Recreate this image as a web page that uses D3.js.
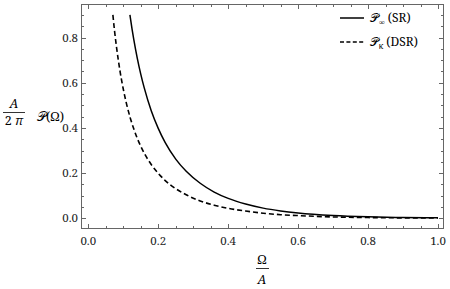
<!DOCTYPE html>
<html><head><meta charset="utf-8">
<script src="https://cdn.jsdelivr.net/npm/d3@7"></script>
<style>body{margin:0;background:#fff}svg{display:block}</style>
</head><body>
<svg id="c" width="450" height="289"></svg>
<script>
// Data
const omegaSR = [0.119,0.125,0.13,0.14,0.15,0.16,0.18,0.20,0.22,0.25,0.28,0.32,0.36,0.40,0.45,0.50,0.55,0.60,0.70,0.80,0.90,1.00];
const valuesSR = [0.90,0.838,0.792,0.709,0.638,0.577,0.476,0.398,0.335,0.262,0.208,0.155,0.116,0.088,0.063,0.045,0.0326,0.0236,0.0125,0.0066,0.0035,0.0019];
const omegaDSR = [0.0703,0.075,0.08,0.09,0.10,0.11,0.12,0.13,0.14,0.15,0.16,0.18,0.20,0.22,0.25,0.28,0.32,0.36,0.40,0.45,0.50,0.55,0.60,0.70,0.80,0.90,1.00];
const valuesDSR = [0.90,0.830,0.766,0.658,0.572,0.502,0.444,0.396,0.354,0.319,0.288,0.238,0.199,0.167,0.131,0.104,0.077,0.058,0.044,0.032,0.0225,0.016,0.012,0.006,0.0033,0.0018,0.001];
const xTicks = [0.0,0.2,0.4,0.6,0.8,1.0];
const yTicks = [0.0,0.2,0.4,0.6,0.8];
const xTickLabels = ["0.0","0.2","0.4","0.6","0.8","1.0"];
const yTickLabels = ["0.0","0.2","0.4","0.6","0.8"];
const legendLabels = [{main:"𝒫",sub:"∞",rest:" (SR)"},{main:"𝒫",sub:"κ",rest:" (DSR)"}];

const svg = d3.select("#c");
const L=81, R=444, T=4, B=229;
const x = d3.scaleLinear().domain([0,1]).range([88.3,438]);
const y = d3.scaleLinear().domain([0,0.8]).range([218.3,37.5]);
const frameColor = "#666";
const font = "'Noto Serif', 'Liberation Serif', serif";

// curves
const line = d3.line().x(d=>x(d[0])).y(d=>y(d[1])).curve(d3.curveMonotoneX);
svg.append("clipPath").attr("id","cp").append("rect").attr("x",L).attr("y",T).attr("width",R-L).attr("height",B-T);
const g = svg.append("g").attr("clip-path","url(#cp)");
g.append("path").attr("d", line(omegaSR.map((o,i)=>[o,valuesSR[i]])))
  .attr("fill","none").attr("stroke","#000").attr("stroke-width",1.5);
g.append("path").attr("d", line(omegaDSR.map((o,i)=>[o,valuesDSR[i]])))
  .attr("fill","none").attr("stroke","#000").attr("stroke-width",1.6).attr("stroke-dasharray","5,3");

// frame
svg.append("rect").attr("x",L+0.5).attr("y",T+0.5).attr("width",R-L-1).attr("height",B-T-1)
  .attr("fill","none").attr("stroke",frameColor).attr("stroke-width",1);

// ticks
const minorX = d3.range(0,1.0001,0.05);
const minorY = d3.range(0,0.9001,0.05);
const isMajor = v => Math.abs(v*5 - Math.round(v*5))<1e-6;
const tk = svg.append("g").attr("stroke",frameColor).attr("stroke-width",1);
minorX.forEach(v=>{
  const len = isMajor(v)?5:3, px = Math.round(x(v))+0.5;
  tk.append("line").attr("x1",px).attr("x2",px).attr("y1",B).attr("y2",B-len);
  tk.append("line").attr("x1",px).attr("x2",px).attr("y1",T).attr("y2",T+len);
});
minorY.forEach(v=>{
  const len = isMajor(v)?5:3, py = Math.round(y(v))+0.5;
  if(py<T||py>B) return;
  tk.append("line").attr("x1",L).attr("x2",L+len).attr("y1",py).attr("y2",py);
  tk.append("line").attr("x1",R).attr("x2",R-len).attr("y1",py).attr("y2",py);
});

// tick labels
svg.append("g").selectAll("text").data(xTicks).join("text")
  .attr("x",d=>x(d)).attr("y",245).attr("text-anchor","middle")
  .attr("font-family",font).attr("font-size",11.5).attr("fill","#222")
  .text((d,i)=>xTickLabels[i]);
svg.append("g").selectAll("text").data(yTicks).join("text")
  .attr("x",78).attr("y",d=>y(d)+4).attr("text-anchor","end")
  .attr("font-family",font).attr("font-size",11.5).attr("fill","#222")
  .text((d,i)=>yTickLabels[i]);

// y label
const yl = svg.append("g").attr("font-family",font).attr("font-size",12.5).attr("fill","#000");
yl.append("text").attr("x",14).attr("y",108).attr("text-anchor","middle").attr("font-style","italic").text("A");
yl.append("line").attr("x1",3).attr("x2",25).attr("y1",112.5).attr("y2",112.5).attr("stroke","#000").attr("stroke-width",0.8);
yl.append("text").attr("x",14).attr("y",125).attr("text-anchor","middle").html('2 <tspan font-style="italic">π</tspan>');
yl.append("text").attr("x",37).attr("y",121).html('<tspan>𝒫</tspan>(Ω)');

// x label
const xl = svg.append("g").attr("font-family",font).attr("font-size",12.5).attr("fill","#000");
xl.append("text").attr("x",262).attr("y",264).attr("text-anchor","middle").text("Ω");
xl.append("line").attr("x1",256).attr("x2",269).attr("y1",268.5).attr("y2",268.5).attr("stroke","#000").attr("stroke-width",0.8);
xl.append("text").attr("x",262).attr("y",284).attr("text-anchor","middle").attr("font-style","italic").text("A");

// legend
const lg = svg.append("g");
[0,1].forEach(i=>{
  const ly = 18 + i*24;
  lg.append("line").attr("x1",340).attr("x2",364).attr("y1",ly).attr("y2",ly)
    .attr("stroke","#000").attr("stroke-width",1.5).attr("stroke-dasharray", i? "4,2.4": null);
  const t = lg.append("text").attr("x",370).attr("y",ly+4).attr("font-family",font).attr("font-size",12).attr("fill","#000");
  t.append("tspan").text(legendLabels[i].main);
  t.append("tspan").attr("dy",3).attr("font-size",8).text(legendLabels[i].sub);
  t.append("tspan").attr("dy",-3).text(legendLabels[i].rest);
});
</script>
</body></html>
